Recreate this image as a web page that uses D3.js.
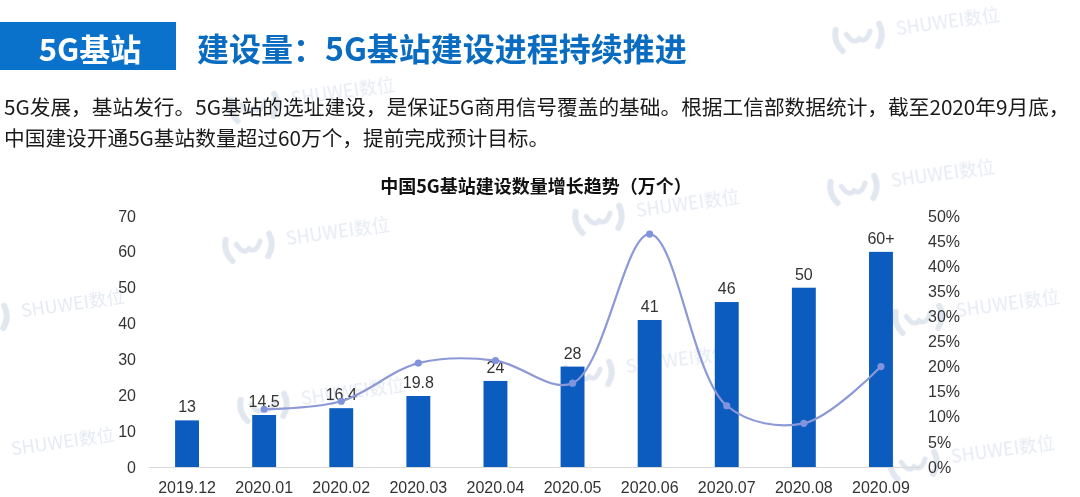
<!DOCTYPE html>
<html>
<head>
<meta charset="utf-8">
<script src="https://cdn.jsdelivr.net/npm/d3@7"></script>
<style>
  html, body { margin: 0; padding: 0; background: #ffffff; }
  svg { display: block; }
</style>
</head>
<body>
<svg id="chart" width="1080" height="497"></svg>
<script>
// ---- data ----
const categories = ["2019.12","2020.01","2020.02","2020.03","2020.04","2020.05","2020.06","2020.07","2020.08","2020.09"];
const stations = [13, 14.5, 16.4, 19.8, 24, 28, 41, 46, 50, 60];
const stationLabels = ["13","14.5","16.4","19.8","24","28","41","46","50","60+"];
const growth = [null, 0.115, 0.131, 0.207, 0.212, 0.167, 0.464, 0.122, 0.087, 0.200];
const leftTicks = [0,10,20,30,40,50,60,70];
const rightTicks = [0,0.05,0.10,0.15,0.20,0.25,0.30,0.35,0.40,0.45,0.50];

const headerTag = "5G基站";
const headerTitle = "建设量：5G基站建设进程持续推进";
const paragraph = [
  "5G发展，基站发行。5G基站的选址建设，是保证5G商用信号覆盖的基础。根据工信部数据统计，截至2020年9月底，",
  "中国建设开通5G基站数量超过60万个，提前完成预计目标。"
];
const chartTitle = "中国5G基站建设数量增长趋势（万个）";
const watermarkText = "SHUWEI数位";

const svg = d3.select("#chart");
const CJK = "'Noto Sans CJK SC', 'Noto Sans', sans-serif";
const LAT = "'Liberation Sans', Arial, sans-serif";

// ---- watermarks (background) ----
const wmSpots = [[835,40],[225,250],[575,222],[240,410],[565,378],[895,322],[890,468],[-40,322],[-50,460],[830,192],[230,110]];
const wm = svg.append("g").attr("opacity", 0.42);
wmSpots.forEach(([x,y]) => {
  const g = wm.append("g").attr("transform", `translate(${x},${y}) rotate(-8)`);
  g.append("path").attr("d","M2,-10 Q-2,2 6,12").attr("stroke","#b8c5da").attr("stroke-width",6).attr("fill","none").attr("stroke-linecap","round");
  g.append("path").attr("d","M12,-4 Q18,8 24,2 Q30,8 36,-4").attr("stroke","#b8c5da").attr("stroke-width",5).attr("fill","none").attr("stroke-linecap","round");
  g.append("path").attr("d","M46,-10 Q50,2 42,12").attr("stroke","#b8c5da").attr("stroke-width",6).attr("fill","none").attr("stroke-linecap","round");
  g.append("text").attr("x",62).attr("y",4).text(watermarkText)
    .attr("font-family", CJK).attr("font-size",18).attr("fill","#c3cde0");
});

// ---- header ----
svg.append("rect").attr("x",0).attr("y",22).attr("width",176).attr("height",48).attr("fill","#0b72cc");
svg.append("text").attr("x",90).attr("y",61).attr("text-anchor","middle")
  .attr("font-family",CJK).attr("font-weight",700).attr("font-size",31).attr("fill","#ffffff").text(headerTag);
svg.append("text").attr("x",197).attr("y",61)
  .attr("font-family",CJK).attr("font-weight",700).attr("font-size",32).attr("fill","#0a6cc0").text(headerTitle);

// ---- paragraph ----
svg.selectAll("text.para").data(paragraph).join("text").attr("class","para")
  .attr("x",4).attr("y",(d,i)=>115+i*31)
  .attr("font-family",CJK).attr("font-size",20.7).attr("fill","#1a1a1a").text(d=>d);

// ---- chart title ----
svg.append("text").attr("x",536).attr("y",193).attr("text-anchor","middle")
  .attr("font-family",CJK).attr("font-weight",700).attr("font-size",18).attr("fill","#111").text(chartTitle);

// ---- scales ----
const x = d3.scaleBand().domain(categories).range([148.5, 919.5]).paddingInner(0.69).paddingOuter(0.345);
const yL = d3.scaleLinear().domain([0,70]).range([467,216]);
const yR = d3.scaleLinear().domain([0,0.5]).range([467,216]);

// ---- axes ----
const axL = svg.append("g").attr("transform","translate(148,0)")
  .call(d3.axisLeft(yL).tickValues(leftTicks).tickSize(0).tickPadding(12));
axL.select(".domain").remove();
axL.selectAll("text").attr("font-family",LAT).attr("font-size",16).attr("fill","#333");

const axR = svg.append("g").attr("transform","translate(918,0)")
  .call(d3.axisRight(yR).tickValues(rightTicks).tickSize(0).tickPadding(10).tickFormat(d3.format(".0%")));
axR.select(".domain").remove();
axR.selectAll("text").attr("font-family",LAT).attr("font-size",16).attr("fill","#333");

const axB = svg.append("g").attr("transform","translate(0,467)")
  .call(d3.axisBottom(x).tickSize(0).tickSizeOuter(0).tickPadding(15));
axB.select(".domain").attr("stroke","#d9d9d9").attr("stroke-width",1.2);
axB.selectAll("text").attr("font-family",LAT).attr("font-size",16).attr("fill","#333");

// ---- bars ----
svg.append("g").selectAll("rect").data(categories).join("rect")
  .attr("x",d=>x(d)).attr("width",x.bandwidth())
  .attr("y",(d,i)=>yL(stations[i])).attr("height",(d,i)=>yL(0)-yL(stations[i]))
  .attr("fill","#0c5bbf");

// ---- bar labels ----
svg.append("g").selectAll("text").data(categories).join("text")
  .attr("x",d=>x(d)+x.bandwidth()/2).attr("y",(d,i)=>yL(stations[i])-8)
  .attr("text-anchor","middle").attr("font-family",LAT).attr("font-size",16).attr("fill","#333")
  .text((d,i)=>stationLabels[i]);

// ---- growth line ----
const pts = categories.map((c,i)=>({c, v: growth[i]})).filter(d=>d.v!==null);
const line = d3.line().x(d=>x(d.c)+x.bandwidth()/2).y(d=>yR(d.v)).curve(d3.curveCatmullRom.alpha(0.5));
svg.append("path").datum(pts).attr("d",line).attr("fill","none")
  .attr("stroke","#8c99d6").attr("stroke-width",2.2);
svg.append("g").selectAll("circle").data(pts).join("circle")
  .attr("cx",d=>x(d.c)+x.bandwidth()/2).attr("cy",d=>yR(d.v)).attr("r",3.6)
  .attr("fill","#8193da");
</script>
</body>
</html>
